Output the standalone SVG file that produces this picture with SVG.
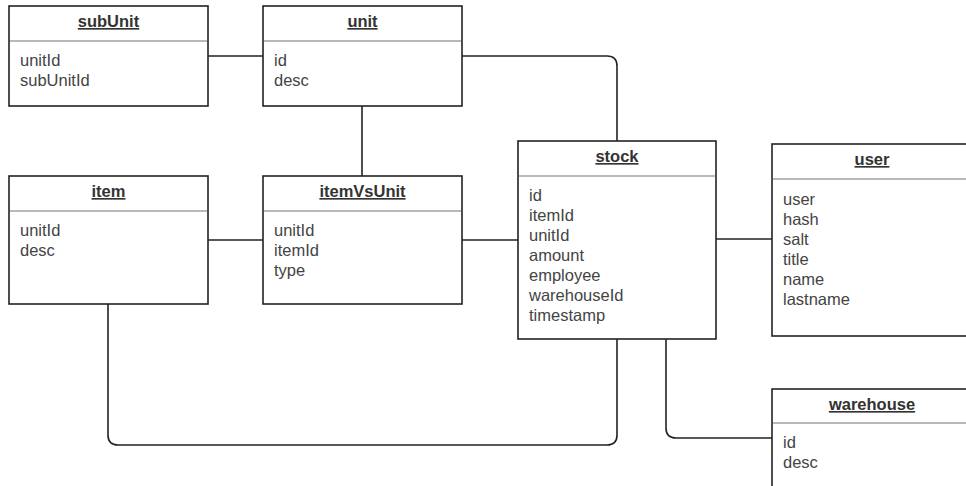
<svg xmlns="http://www.w3.org/2000/svg" width="966" height="486" viewBox="0 0 966 486">
<style>
.box{fill:#fff;stroke:#222;stroke-width:1.6}
.sep{stroke:#a0a0a0;stroke-width:1.6}
.title{font-family:"Liberation Sans",Arial,sans-serif;font-size:16.5px;font-weight:bold;fill:#333;text-anchor:middle;text-decoration:underline}
.attr{font-family:"Liberation Sans",Arial,sans-serif;font-size:16.5px;fill:#444}
.conn{fill:none;stroke:#222;stroke-width:1.6}
</style>
<rect width="966" height="486" fill="#fff"/>
<g id="connectors">
<path class="conn" d="M208,56 H263"/>
<path class="conn" d="M462,56 H607 Q617,56 617,66 V141"/>
<path class="conn" d="M362,106 V176"/>
<path class="conn" d="M208,240 H263"/>
<path class="conn" d="M462,240 H518"/>
<path class="conn" d="M716,239 H772"/>
<path class="conn" d="M108,304 V435 Q108,445 118,445 H607 Q617,445 617,435 V339"/>
<path class="conn" d="M666,339 V428 Q666,438 676,438 H772"/>
</g>
<g id="subUnit">
<rect class="box" x="9" y="6" width="199" height="100"/>
<line class="sep" x1="10" y1="41" x2="207" y2="41"/>
<text class="title" x="108.5" y="27">subUnit</text>
<text class="attr" x="20" y="66">unitId</text>
<text class="attr" x="20" y="86">subUnitId</text>
</g>
<g id="unit">
<rect class="box" x="263" y="6" width="199" height="100"/>
<line class="sep" x1="264" y1="41" x2="461" y2="41"/>
<text class="title" x="362.5" y="27">unit</text>
<text class="attr" x="274" y="66">id</text>
<text class="attr" x="274" y="86">desc</text>
</g>
<g id="item">
<rect class="box" x="9" y="176" width="199" height="128"/>
<line class="sep" x1="10" y1="211" x2="207" y2="211"/>
<text class="title" x="108.5" y="197">item</text>
<text class="attr" x="20" y="236">unitId</text>
<text class="attr" x="20" y="256">desc</text>
</g>
<g id="itemVsUnit">
<rect class="box" x="263" y="176" width="199" height="128"/>
<line class="sep" x1="264" y1="211" x2="461" y2="211"/>
<text class="title" x="362.5" y="197">itemVsUnit</text>
<text class="attr" x="274" y="236">unitId</text>
<text class="attr" x="274" y="256">itemId</text>
<text class="attr" x="274" y="276">type</text>
</g>
<g id="stock">
<rect class="box" x="518" y="141" width="198" height="198"/>
<line class="sep" x1="519" y1="176" x2="715" y2="176"/>
<text class="title" x="617" y="162">stock</text>
<text class="attr" x="529" y="201">id</text>
<text class="attr" x="529" y="221">itemId</text>
<text class="attr" x="529" y="241">unitId</text>
<text class="attr" x="529" y="261">amount</text>
<text class="attr" x="529" y="281">employee</text>
<text class="attr" x="529" y="301">warehouseId</text>
<text class="attr" x="529" y="321">timestamp</text>
</g>
<g id="user">
<rect class="box" x="772" y="144" width="200" height="192"/>
<line class="sep" x1="773" y1="179" x2="971" y2="179"/>
<text class="title" x="872" y="165">user</text>
<text class="attr" x="783" y="205">user</text>
<text class="attr" x="783" y="225">hash</text>
<text class="attr" x="783" y="245">salt</text>
<text class="attr" x="783" y="265">title</text>
<text class="attr" x="783" y="285">name</text>
<text class="attr" x="783" y="305">lastname</text>
</g>
<g id="warehouse">
<rect class="box" x="772" y="389" width="200" height="110"/>
<line class="sep" x1="773" y1="423" x2="971" y2="423"/>
<text class="title" x="872" y="410">warehouse</text>
<text class="attr" x="783" y="448">id</text>
<text class="attr" x="783" y="468">desc</text>
</g>
</svg>
